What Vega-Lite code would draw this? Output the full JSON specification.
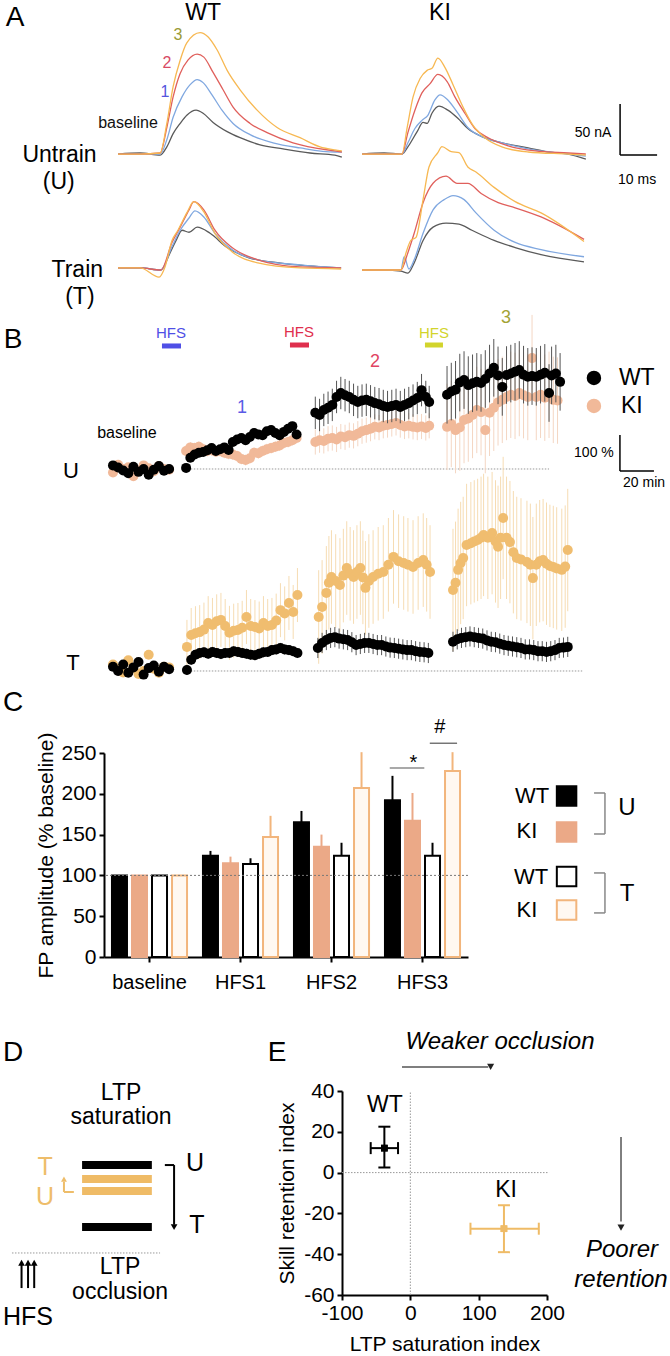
{
"$schema":"https://vega.github.io/schema/vega-lite/v6.json",
"padding":0,"background":"white","spacing":0,"bounds":"flush",
"config":{"view":{"stroke":null},"font":"Liberation Sans","text":{"font":"Liberation Sans","color":"black"},
"axis":{"grid":false,"domainColor":"black","domainWidth":2,"tickColor":"black","tickWidth":2,"tickSize":5,"labelFont":"Liberation Sans","labelFontSize":21,"labelColor":"black","titleFont":"Liberation Sans","titleFontSize":21,"titleFontWeight":"normal","titleColor":"black","labelFlush":false,"labelOverlap":false}},
"datasets":{
"traces":[
{"p":"wu","tr":"b","t":0,"v":0},{"p":"wu","tr":"b","t":6,"v":1},{"p":"wu","tr":"b","t":11.4,"v":-1},{"p":"wu","tr":"b","t":13.2,"v":7},{"p":"wu","tr":"b","t":14.9,"v":20},{"p":"wu","tr":"b","t":16.8,"v":30},{"p":"wu","tr":"b","t":18.6,"v":38},{"p":"wu","tr":"b","t":21.1,"v":43},{"p":"wu","tr":"b","t":23,"v":40},{"p":"wu","tr":"b","t":25.7,"v":31},{"p":"wu","tr":"b","t":29.5,"v":22},{"p":"wu","tr":"b","t":33,"v":16},{"p":"wu","tr":"b","t":38.4,"v":9},{"p":"wu","tr":"b","t":44.6,"v":5},{"p":"wu","tr":"b","t":51.9,"v":1},{"p":"wu","tr":"b","t":58.6,"v":-1},{"p":"wu","tr":"b","t":60.5,"v":-3},
{"p":"wu","tr":"1","t":0,"v":0},{"p":"wu","tr":"1","t":6,"v":0},{"p":"wu","tr":"1","t":11.4,"v":0},{"p":"wu","tr":"1","t":13.2,"v":14},{"p":"wu","tr":"1","t":14.9,"v":36},{"p":"wu","tr":"1","t":17.3,"v":56},{"p":"wu","tr":"1","t":19.5,"v":68},{"p":"wu","tr":"1","t":21.4,"v":73},{"p":"wu","tr":"1","t":23,"v":70},{"p":"wu","tr":"1","t":25.4,"v":58},{"p":"wu","tr":"1","t":28.1,"v":43},{"p":"wu","tr":"1","t":31.1,"v":30},{"p":"wu","tr":"1","t":35.7,"v":19},{"p":"wu","tr":"1","t":41.9,"v":11},{"p":"wu","tr":"1","t":49.2,"v":6},{"p":"wu","tr":"1","t":58.6,"v":2},{"p":"wu","tr":"1","t":60.5,"v":2},
{"p":"wu","tr":"2","t":0,"v":0},{"p":"wu","tr":"2","t":6,"v":0},{"p":"wu","tr":"2","t":11.4,"v":1},{"p":"wu","tr":"2","t":13.2,"v":26},{"p":"wu","tr":"2","t":14.9,"v":56},{"p":"wu","tr":"2","t":16.8,"v":79},{"p":"wu","tr":"2","t":18.9,"v":92},{"p":"wu","tr":"2","t":21.4,"v":98},{"p":"wu","tr":"2","t":23.2,"v":95},{"p":"wu","tr":"2","t":25.7,"v":80},{"p":"wu","tr":"2","t":28.4,"v":63},{"p":"wu","tr":"2","t":31.1,"v":46},{"p":"wu","tr":"2","t":35.7,"v":30},{"p":"wu","tr":"2","t":40.3,"v":21},{"p":"wu","tr":"2","t":47.3,"v":11},{"p":"wu","tr":"2","t":58.6,"v":3},{"p":"wu","tr":"2","t":60.5,"v":2},
{"p":"wu","tr":"3","t":0,"v":0},{"p":"wu","tr":"3","t":6,"v":0},{"p":"wu","tr":"3","t":11.4,"v":1},{"p":"wu","tr":"3","t":13.2,"v":30},{"p":"wu","tr":"3","t":14.9,"v":66},{"p":"wu","tr":"3","t":16.8,"v":92},{"p":"wu","tr":"3","t":18.6,"v":109},{"p":"wu","tr":"3","t":22.2,"v":119},{"p":"wu","tr":"3","t":24.3,"v":115},{"p":"wu","tr":"3","t":26.8,"v":102},{"p":"wu","tr":"3","t":29.5,"v":82},{"p":"wu","tr":"3","t":33,"v":63},{"p":"wu","tr":"3","t":37.6,"v":43},{"p":"wu","tr":"3","t":43,"v":26},{"p":"wu","tr":"3","t":49.2,"v":16},{"p":"wu","tr":"3","t":54.6,"v":7},{"p":"wu","tr":"3","t":58.6,"v":4},{"p":"wu","tr":"3","t":60.5,"v":3},
{"p":"ku","tr":"b","t":0,"v":0},{"p":"ku","tr":"b","t":6,"v":1},{"p":"ku","tr":"b","t":10.8,"v":0},{"p":"ku","tr":"b","t":12.4,"v":7},{"p":"ku","tr":"b","t":14.9,"v":22},{"p":"ku","tr":"b","t":16.5,"v":31},{"p":"ku","tr":"b","t":17.6,"v":30},{"p":"ku","tr":"b","t":18.9,"v":40},{"p":"ku","tr":"b","t":20.8,"v":47},{"p":"ku","tr":"b","t":23.2,"v":43},{"p":"ku","tr":"b","t":25.9,"v":35},{"p":"ku","tr":"b","t":28.6,"v":25},{"p":"ku","tr":"b","t":32.4,"v":17},{"p":"ku","tr":"b","t":37.8,"v":11},{"p":"ku","tr":"b","t":44.9,"v":6},{"p":"ku","tr":"b","t":50.3,"v":2},{"p":"ku","tr":"b","t":55.7,"v":0},{"p":"ku","tr":"b","t":60.5,"v":-5},
{"p":"ku","tr":"1","t":0,"v":0},{"p":"ku","tr":"1","t":6,"v":0},{"p":"ku","tr":"1","t":10.8,"v":0},{"p":"ku","tr":"1","t":12.4,"v":11},{"p":"ku","tr":"1","t":14.3,"v":25},{"p":"ku","tr":"1","t":16.2,"v":33},{"p":"ku","tr":"1","t":17.8,"v":38},{"p":"ku","tr":"1","t":19.7,"v":53},{"p":"ku","tr":"1","t":21.1,"v":58},{"p":"ku","tr":"1","t":23.2,"v":53},{"p":"ku","tr":"1","t":25.9,"v":40},{"p":"ku","tr":"1","t":28.6,"v":26},{"p":"ku","tr":"1","t":32.4,"v":17},{"p":"ku","tr":"1","t":37.8,"v":11},{"p":"ku","tr":"1","t":44.9,"v":5},{"p":"ku","tr":"1","t":55.7,"v":0},{"p":"ku","tr":"1","t":60.5,"v":-2},
{"p":"ku","tr":"2","t":0,"v":0},{"p":"ku","tr":"2","t":6,"v":0},{"p":"ku","tr":"2","t":10.8,"v":0},{"p":"ku","tr":"2","t":12.4,"v":21},{"p":"ku","tr":"2","t":14.3,"v":43},{"p":"ku","tr":"2","t":16.2,"v":60},{"p":"ku","tr":"2","t":18.4,"v":69},{"p":"ku","tr":"2","t":20.5,"v":78},{"p":"ku","tr":"2","t":23,"v":71},{"p":"ku","tr":"2","t":25.1,"v":56},{"p":"ku","tr":"2","t":27.8,"v":40},{"p":"ku","tr":"2","t":30.5,"v":25},{"p":"ku","tr":"2","t":34.1,"v":16},{"p":"ku","tr":"2","t":39.5,"v":8},{"p":"ku","tr":"2","t":46.8,"v":3},{"p":"ku","tr":"2","t":55.7,"v":1},{"p":"ku","tr":"2","t":60.5,"v":0},
{"p":"ku","tr":"3","t":0,"v":0},{"p":"ku","tr":"3","t":6,"v":0},{"p":"ku","tr":"3","t":10.8,"v":0},{"p":"ku","tr":"3","t":12.2,"v":26},{"p":"ku","tr":"3","t":13.8,"v":56},{"p":"ku","tr":"3","t":15.7,"v":74},{"p":"ku","tr":"3","t":17.6,"v":82},{"p":"ku","tr":"3","t":18.9,"v":84},{"p":"ku","tr":"3","t":20.5,"v":94},{"p":"ku","tr":"3","t":22.4,"v":85},{"p":"ku","tr":"3","t":24.6,"v":68},{"p":"ku","tr":"3","t":27.3,"v":46},{"p":"ku","tr":"3","t":30,"v":28},{"p":"ku","tr":"3","t":33.2,"v":16},{"p":"ku","tr":"3","t":37.8,"v":7},{"p":"ku","tr":"3","t":44.9,"v":2},{"p":"ku","tr":"3","t":55.7,"v":0},{"p":"ku","tr":"3","t":60.5,"v":-1},
{"p":"wt","tr":"b","t":0,"v":0},{"p":"wt","tr":"b","t":6,"v":0},{"p":"wt","tr":"b","t":11.6,"v":-2},{"p":"wt","tr":"b","t":14.1,"v":15},{"p":"wt","tr":"b","t":15.7,"v":27},{"p":"wt","tr":"b","t":17.3,"v":37},{"p":"wt","tr":"b","t":19.2,"v":35},{"p":"wt","tr":"b","t":21.4,"v":40},{"p":"wt","tr":"b","t":24.9,"v":34},{"p":"wt","tr":"b","t":29.5,"v":20},{"p":"wt","tr":"b","t":35.4,"v":10},{"p":"wt","tr":"b","t":43.5,"v":5},{"p":"wt","tr":"b","t":60.3,"v":0},
{"p":"wt","tr":"1","t":0,"v":0},{"p":"wt","tr":"1","t":6,"v":0},{"p":"wt","tr":"1","t":11.6,"v":-2},{"p":"wt","tr":"1","t":14.6,"v":21},{"p":"wt","tr":"1","t":16.8,"v":37},{"p":"wt","tr":"1","t":19.2,"v":49},{"p":"wt","tr":"1","t":20.8,"v":56},{"p":"wt","tr":"1","t":23.2,"v":50},{"p":"wt","tr":"1","t":26.2,"v":34},{"p":"wt","tr":"1","t":30.8,"v":18},{"p":"wt","tr":"1","t":37.8,"v":8},{"p":"wt","tr":"1","t":49.2,"v":3},{"p":"wt","tr":"1","t":60.3,"v":0},
{"p":"wt","tr":"2","t":0,"v":0},{"p":"wt","tr":"2","t":6,"v":0},{"p":"wt","tr":"2","t":11.6,"v":-2},{"p":"wt","tr":"2","t":14.6,"v":25},{"p":"wt","tr":"2","t":16.8,"v":40},{"p":"wt","tr":"2","t":19.2,"v":57},{"p":"wt","tr":"2","t":20.5,"v":65},{"p":"wt","tr":"2","t":23.2,"v":57},{"p":"wt","tr":"2","t":26.2,"v":37},{"p":"wt","tr":"2","t":30.8,"v":20},{"p":"wt","tr":"2","t":37.8,"v":8},{"p":"wt","tr":"2","t":49.2,"v":1},{"p":"wt","tr":"2","t":60.3,"v":0},
{"p":"wt","tr":"3","t":0,"v":0},{"p":"wt","tr":"3","t":6,"v":0},{"p":"wt","tr":"3","t":11.1,"v":-9},{"p":"wt","tr":"3","t":12.7,"v":1},{"p":"wt","tr":"3","t":14.6,"v":27},{"p":"wt","tr":"3","t":16.2,"v":37},{"p":"wt","tr":"3","t":18.6,"v":54},{"p":"wt","tr":"3","t":20.5,"v":65},{"p":"wt","tr":"3","t":23.2,"v":55},{"p":"wt","tr":"3","t":26.2,"v":34},{"p":"wt","tr":"3","t":30.8,"v":16},{"p":"wt","tr":"3","t":37.8,"v":5},{"p":"wt","tr":"3","t":49.2,"v":0},{"p":"wt","tr":"3","t":60.3,"v":-1},
{"p":"kt","tr":"b","t":0,"v":0},{"p":"kt","tr":"b","t":6,"v":0},{"p":"kt","tr":"b","t":10.5,"v":-1},{"p":"kt","tr":"b","t":12.4,"v":-3},{"p":"kt","tr":"b","t":14.1,"v":7},{"p":"kt","tr":"b","t":16.5,"v":29},{"p":"kt","tr":"b","t":19.2,"v":42},{"p":"kt","tr":"b","t":22.7,"v":46},{"p":"kt","tr":"b","t":26.2,"v":45},{"p":"kt","tr":"b","t":29.7,"v":39},{"p":"kt","tr":"b","t":35.7,"v":29},{"p":"kt","tr":"b","t":41.4,"v":22},{"p":"kt","tr":"b","t":48.4,"v":15},{"p":"kt","tr":"b","t":60,"v":8},
{"p":"kt","tr":"1","t":0,"v":0},{"p":"kt","tr":"1","t":6,"v":0},{"p":"kt","tr":"1","t":10.5,"v":0},{"p":"kt","tr":"1","t":11.4,"v":13},{"p":"kt","tr":"1","t":12.7,"v":1},{"p":"kt","tr":"1","t":14.1,"v":10},{"p":"kt","tr":"1","t":16.5,"v":36},{"p":"kt","tr":"1","t":19.2,"v":59},{"p":"kt","tr":"1","t":22.2,"v":69},{"p":"kt","tr":"1","t":24.6,"v":73},{"p":"kt","tr":"1","t":27.6,"v":69},{"p":"kt","tr":"1","t":30.8,"v":56},{"p":"kt","tr":"1","t":35.7,"v":39},{"p":"kt","tr":"1","t":41.4,"v":27},{"p":"kt","tr":"1","t":48.4,"v":20},{"p":"kt","tr":"1","t":60,"v":13},
{"p":"kt","tr":"2","t":0,"v":0},{"p":"kt","tr":"2","t":6,"v":0},{"p":"kt","tr":"2","t":10.5,"v":0},{"p":"kt","tr":"2","t":12.4,"v":17},{"p":"kt","tr":"2","t":14.1,"v":36},{"p":"kt","tr":"2","t":16.5,"v":66},{"p":"kt","tr":"2","t":19.2,"v":85},{"p":"kt","tr":"2","t":22.7,"v":92},{"p":"kt","tr":"2","t":25.7,"v":85},{"p":"kt","tr":"2","t":28.6,"v":85},{"p":"kt","tr":"2","t":32.2,"v":75},{"p":"kt","tr":"2","t":36.8,"v":66},{"p":"kt","tr":"2","t":41.4,"v":61},{"p":"kt","tr":"2","t":48.4,"v":52},{"p":"kt","tr":"2","t":60,"v":30},
{"p":"kt","tr":"3","t":0,"v":0},{"p":"kt","tr":"3","t":6,"v":0},{"p":"kt","tr":"3","t":10.5,"v":0},{"p":"kt","tr":"3","t":11.9,"v":17},{"p":"kt","tr":"3","t":13.2,"v":29},{"p":"kt","tr":"3","t":14.6,"v":32},{"p":"kt","tr":"3","t":16.5,"v":69},{"p":"kt","tr":"3","t":18.1,"v":101},{"p":"kt","tr":"3","t":20.5,"v":115},{"p":"kt","tr":"3","t":21.6,"v":121},{"p":"kt","tr":"3","t":24.1,"v":116},{"p":"kt","tr":"3","t":26.2,"v":115},{"p":"kt","tr":"3","t":28.6,"v":101},{"p":"kt","tr":"3","t":30.8,"v":96},{"p":"kt","tr":"3","t":35.7,"v":81},{"p":"kt","tr":"3","t":41.4,"v":67},{"p":"kt","tr":"3","t":48.4,"v":56},{"p":"kt","tr":"3","t":60,"v":28}
],
"tc":[
{"r":"U","g":"WT","t":0,"v":110,"e":6},{"r":"U","g":"WT","t":3,"v":104,"e":6},{"r":"U","g":"WT","t":6,"v":96,"e":6},{"r":"U","g":"WT","t":9,"v":88,"e":6},{"r":"U","g":"WT","t":12,"v":106,"e":6},{"r":"U","g":"WT","t":15,"v":92,"e":6},{"r":"U","g":"WT","t":18,"v":100,"e":6},{"r":"U","g":"WT","t":21,"v":84,"e":6},{"r":"U","g":"WT","t":24,"v":98,"e":6},{"r":"U","g":"WT","t":27,"v":108,"e":6},{"r":"U","g":"WT","t":30,"v":95,"e":6},{"r":"U","g":"WT","t":33,"v":100,"e":6},
{"r":"U","g":"KI","t":0,"v":90,"e":6},{"r":"U","g":"KI","t":3,"v":112,"e":6},{"r":"U","g":"KI","t":6,"v":100,"e":6},{"r":"U","g":"KI","t":9,"v":105,"e":6},{"r":"U","g":"KI","t":12,"v":80,"e":6},{"r":"U","g":"KI","t":15,"v":96,"e":6},{"r":"U","g":"KI","t":18,"v":110,"e":6},{"r":"U","g":"KI","t":21,"v":102,"e":6},{"r":"U","g":"KI","t":24,"v":94,"e":6},{"r":"U","g":"KI","t":27,"v":108,"e":6},{"r":"U","g":"KI","t":30,"v":100,"e":6},{"r":"U","g":"KI","t":33,"v":98,"e":6},
{"r":"U","g":"WT","t":43,"v":103,"e":12},{"r":"U","g":"WT","t":45.5,"v":131,"e":12},{"r":"U","g":"WT","t":48,"v":140,"e":12},{"r":"U","g":"WT","t":50.5,"v":145,"e":12},{"r":"U","g":"WT","t":53,"v":147,"e":12},{"r":"U","g":"WT","t":55.5,"v":152,"e":12},{"r":"U","g":"WT","t":58,"v":158,"e":12},{"r":"U","g":"WT","t":60.5,"v":150,"e":12},{"r":"U","g":"WT","t":63,"v":155,"e":12},{"r":"U","g":"WT","t":65.5,"v":160,"e":12},{"r":"U","g":"WT","t":68,"v":153,"e":12},{"r":"U","g":"WT","t":70.5,"v":175,"e":12},{"r":"U","g":"WT","t":73,"v":182,"e":12},{"r":"U","g":"WT","t":75.5,"v":186,"e":12},{"r":"U","g":"WT","t":78,"v":180,"e":12},{"r":"U","g":"WT","t":80.5,"v":189,"e":12},{"r":"U","g":"WT","t":83,"v":200,"e":12},{"r":"U","g":"WT","t":85.5,"v":196,"e":12},{"r":"U","g":"WT","t":88,"v":194,"e":12},{"r":"U","g":"WT","t":90.5,"v":205,"e":12},{"r":"U","g":"WT","t":93,"v":208,"e":12},{"r":"U","g":"WT","t":95.5,"v":200,"e":12},{"r":"U","g":"WT","t":98,"v":194,"e":12},{"r":"U","g":"WT","t":100.5,"v":203,"e":12},{"r":"U","g":"WT","t":103,"v":212,"e":12},{"r":"U","g":"WT","t":105.5,"v":219,"e":12},{"r":"U","g":"WT","t":108,"v":196,"e":12},
{"r":"U","g":"KI","t":43,"v":150,"e":15},{"r":"U","g":"KI","t":45.5,"v":160,"e":15},{"r":"U","g":"KI","t":48,"v":158,"e":15},{"r":"U","g":"KI","t":50.5,"v":162,"e":15},{"r":"U","g":"KI","t":53,"v":155,"e":15},{"r":"U","g":"KI","t":55.5,"v":150,"e":15},{"r":"U","g":"KI","t":58,"v":152,"e":15},{"r":"U","g":"KI","t":60.5,"v":148,"e":15},{"r":"U","g":"KI","t":63,"v":150,"e":15},{"r":"U","g":"KI","t":65.5,"v":145,"e":15},{"r":"U","g":"KI","t":68,"v":142,"e":15},{"r":"U","g":"KI","t":70.5,"v":140,"e":15},{"r":"U","g":"KI","t":73,"v":136,"e":15},{"r":"U","g":"KI","t":75.5,"v":128,"e":15},{"r":"U","g":"KI","t":78,"v":125,"e":15},{"r":"U","g":"KI","t":80.5,"v":130,"e":15},{"r":"U","g":"KI","t":83,"v":145,"e":15},{"r":"U","g":"KI","t":85.5,"v":144,"e":15},{"r":"U","g":"KI","t":88,"v":150,"e":15},{"r":"U","g":"KI","t":90.5,"v":155,"e":15},{"r":"U","g":"KI","t":93,"v":158,"e":15},{"r":"U","g":"KI","t":95.5,"v":162,"e":15},{"r":"U","g":"KI","t":98,"v":165,"e":15},{"r":"U","g":"KI","t":100.5,"v":172,"e":15},{"r":"U","g":"KI","t":103,"v":175,"e":15},{"r":"U","g":"KI","t":105.5,"v":180,"e":15},{"r":"U","g":"KI","t":108,"v":186,"e":15},
{"r":"U","g":"WT","t":119,"v":256,"e":45},{"r":"U","g":"WT","t":121.5,"v":250,"e":45},{"r":"U","g":"WT","t":124,"v":264,"e":45},{"r":"U","g":"WT","t":126.5,"v":270,"e":45},{"r":"U","g":"WT","t":129,"v":278,"e":45},{"r":"U","g":"WT","t":131.5,"v":300,"e":45},{"r":"U","g":"WT","t":134,"v":311,"e":45},{"r":"U","g":"WT","t":136.5,"v":305,"e":45},{"r":"U","g":"WT","t":139,"v":300,"e":45},{"r":"U","g":"WT","t":141.5,"v":292,"e":45},{"r":"U","g":"WT","t":144,"v":286,"e":45},{"r":"U","g":"WT","t":146.5,"v":290,"e":45},{"r":"U","g":"WT","t":149,"v":292,"e":45},{"r":"U","g":"WT","t":151.5,"v":288,"e":45},{"r":"U","g":"WT","t":154,"v":283,"e":45},{"r":"U","g":"WT","t":156.5,"v":280,"e":45},{"r":"U","g":"WT","t":159,"v":275,"e":45},{"r":"U","g":"WT","t":161.5,"v":272,"e":45},{"r":"U","g":"WT","t":164,"v":275,"e":45},{"r":"U","g":"WT","t":166.5,"v":278,"e":45},{"r":"U","g":"WT","t":169,"v":272,"e":45},{"r":"U","g":"WT","t":171.5,"v":278,"e":45},{"r":"U","g":"WT","t":174,"v":283,"e":45},{"r":"U","g":"WT","t":176.5,"v":290,"e":45},{"r":"U","g":"WT","t":179,"v":297,"e":45},{"r":"U","g":"WT","t":181.5,"v":319,"e":45},{"r":"U","g":"WT","t":184,"v":300,"e":45},{"r":"U","g":"WT","t":186,"v":286,"e":45},
{"r":"U","g":"KI","t":119,"v":175,"e":35},{"r":"U","g":"KI","t":121.5,"v":180,"e":35},{"r":"U","g":"KI","t":124,"v":178,"e":35},{"r":"U","g":"KI","t":126.5,"v":184,"e":35},{"r":"U","g":"KI","t":129,"v":186,"e":35},{"r":"U","g":"KI","t":131.5,"v":182,"e":35},{"r":"U","g":"KI","t":134,"v":190,"e":35},{"r":"U","g":"KI","t":136.5,"v":188,"e":35},{"r":"U","g":"KI","t":139,"v":194,"e":35},{"r":"U","g":"KI","t":141.5,"v":192,"e":35},{"r":"U","g":"KI","t":144,"v":198,"e":35},{"r":"U","g":"KI","t":146.5,"v":205,"e":35},{"r":"U","g":"KI","t":149,"v":208,"e":35},{"r":"U","g":"KI","t":151.5,"v":212,"e":35},{"r":"U","g":"KI","t":154,"v":217,"e":35},{"r":"U","g":"KI","t":156.5,"v":215,"e":35},{"r":"U","g":"KI","t":159,"v":220,"e":35},{"r":"U","g":"KI","t":161.5,"v":222,"e":35},{"r":"U","g":"KI","t":164,"v":225,"e":35},{"r":"U","g":"KI","t":166.5,"v":228,"e":35},{"r":"U","g":"KI","t":169,"v":222,"e":35},{"r":"U","g":"KI","t":171.5,"v":218,"e":35},{"r":"U","g":"KI","t":174,"v":220,"e":35},{"r":"U","g":"KI","t":176.5,"v":217,"e":35},{"r":"U","g":"KI","t":179,"v":215,"e":35},{"r":"U","g":"KI","t":181.5,"v":218,"e":35},{"r":"U","g":"KI","t":184,"v":214,"e":35},{"r":"U","g":"KI","t":186,"v":220,"e":35},
{"r":"U","g":"WT","t":196.5,"v":306,"e":80},{"r":"U","g":"WT","t":199,"v":315,"e":80},{"r":"U","g":"WT","t":201.5,"v":320,"e":80},{"r":"U","g":"WT","t":204,"v":340,"e":80},{"r":"U","g":"WT","t":206.5,"v":347,"e":80},{"r":"U","g":"WT","t":209,"v":333,"e":80},{"r":"U","g":"WT","t":211.5,"v":338,"e":80},{"r":"U","g":"WT","t":214,"v":342,"e":80},{"r":"U","g":"WT","t":216.5,"v":339,"e":80},{"r":"U","g":"WT","t":219,"v":350,"e":80},{"r":"U","g":"WT","t":221.5,"v":365,"e":80},{"r":"U","g":"WT","t":224,"v":381,"e":80},{"r":"U","g":"WT","t":226.5,"v":360,"e":80},{"r":"U","g":"WT","t":229,"v":328,"e":80},{"r":"U","g":"WT","t":231.5,"v":361,"e":80},{"r":"U","g":"WT","t":234,"v":365,"e":80},{"r":"U","g":"WT","t":236.5,"v":370,"e":80},{"r":"U","g":"WT","t":239,"v":375,"e":80},{"r":"U","g":"WT","t":241.5,"v":362,"e":80},{"r":"U","g":"WT","t":244,"v":356,"e":80},{"r":"U","g":"WT","t":246.5,"v":358,"e":80},{"r":"U","g":"WT","t":249,"v":356,"e":80},{"r":"U","g":"WT","t":251.5,"v":362,"e":80},{"r":"U","g":"WT","t":254,"v":367,"e":80},{"r":"U","g":"WT","t":256.5,"v":311,"e":80},{"r":"U","g":"WT","t":258,"v":360,"e":80},{"r":"U","g":"WT","t":260.5,"v":365,"e":80},{"r":"U","g":"WT","t":263,"v":342,"e":80},
{"r":"U","g":"KI","t":196.5,"v":217,"e":120},{"r":"U","g":"KI","t":199,"v":225,"e":120},{"r":"U","g":"KI","t":201.5,"v":208,"e":120},{"r":"U","g":"KI","t":204,"v":215,"e":120},{"r":"U","g":"KI","t":206.5,"v":236,"e":120},{"r":"U","g":"KI","t":209,"v":240,"e":120},{"r":"U","g":"KI","t":211.5,"v":250,"e":120},{"r":"U","g":"KI","t":214,"v":264,"e":120},{"r":"U","g":"KI","t":216.5,"v":258,"e":120},{"r":"U","g":"KI","t":219,"v":208,"e":120},{"r":"U","g":"KI","t":221.5,"v":256,"e":120},{"r":"U","g":"KI","t":224,"v":270,"e":120},{"r":"U","g":"KI","t":226.5,"v":285,"e":120},{"r":"U","g":"KI","t":229,"v":292,"e":120},{"r":"U","g":"KI","t":231.5,"v":300,"e":120},{"r":"U","g":"KI","t":234,"v":306,"e":120},{"r":"U","g":"KI","t":236.5,"v":303,"e":120},{"r":"U","g":"KI","t":239,"v":311,"e":120},{"r":"U","g":"KI","t":241.5,"v":305,"e":120},{"r":"U","g":"KI","t":244,"v":300,"e":120},{"r":"U","g":"KI","t":246.5,"v":408,"e":120},{"r":"U","g":"KI","t":249,"v":300,"e":120},{"r":"U","g":"KI","t":251.5,"v":306,"e":120},{"r":"U","g":"KI","t":254,"v":298,"e":120},{"r":"U","g":"KI","t":256.5,"v":306,"e":120},{"r":"U","g":"KI","t":259,"v":292,"e":120},{"r":"U","g":"KI","t":261.5,"v":290,"e":120},
{"r":"T","g":"WT","t":0,"v":112,"e":8},{"r":"T","g":"WT","t":3,"v":100,"e":8},{"r":"T","g":"WT","t":6,"v":118,"e":8},{"r":"T","g":"WT","t":9,"v":95,"e":8},{"r":"T","g":"WT","t":12,"v":110,"e":8},{"r":"T","g":"WT","t":15,"v":125,"e":8},{"r":"T","g":"WT","t":18,"v":90,"e":8},{"r":"T","g":"WT","t":21,"v":108,"e":8},{"r":"T","g":"WT","t":24,"v":115,"e":8},{"r":"T","g":"WT","t":27,"v":98,"e":8},{"r":"T","g":"WT","t":30,"v":112,"e":8},{"r":"T","g":"WT","t":33,"v":105,"e":8},
{"r":"T","g":"KI","t":0,"v":118,"e":10},{"r":"T","g":"KI","t":3,"v":105,"e":10},{"r":"T","g":"KI","t":6,"v":96,"e":10},{"r":"T","g":"KI","t":9,"v":130,"e":10},{"r":"T","g":"KI","t":12,"v":108,"e":10},{"r":"T","g":"KI","t":15,"v":92,"e":10},{"r":"T","g":"KI","t":18,"v":100,"e":10},{"r":"T","g":"KI","t":21,"v":145,"e":10},{"r":"T","g":"KI","t":24,"v":106,"e":10},{"r":"T","g":"KI","t":27,"v":95,"e":10},{"r":"T","g":"KI","t":30,"v":112,"e":10},{"r":"T","g":"KI","t":33,"v":110,"e":10},
{"r":"T","g":"WT","t":43.5,"v":103,"e":14},{"r":"T","g":"WT","t":46,"v":131,"e":14},{"r":"T","g":"WT","t":48.5,"v":145,"e":14},{"r":"T","g":"WT","t":51,"v":150,"e":14},{"r":"T","g":"WT","t":53.5,"v":152,"e":14},{"r":"T","g":"WT","t":56,"v":148,"e":14},{"r":"T","g":"WT","t":58.5,"v":153,"e":14},{"r":"T","g":"WT","t":61,"v":150,"e":14},{"r":"T","g":"WT","t":63.5,"v":147,"e":14},{"r":"T","g":"WT","t":66,"v":150,"e":14},{"r":"T","g":"WT","t":68.5,"v":150,"e":14},{"r":"T","g":"WT","t":71,"v":155,"e":14},{"r":"T","g":"WT","t":73.5,"v":153,"e":14},{"r":"T","g":"WT","t":76,"v":150,"e":14},{"r":"T","g":"WT","t":78.5,"v":148,"e":14},{"r":"T","g":"WT","t":81,"v":145,"e":14},{"r":"T","g":"WT","t":83.5,"v":144,"e":14},{"r":"T","g":"WT","t":86,"v":148,"e":14},{"r":"T","g":"WT","t":88.5,"v":152,"e":14},{"r":"T","g":"WT","t":91,"v":153,"e":14},{"r":"T","g":"WT","t":93.5,"v":158,"e":14},{"r":"T","g":"WT","t":96,"v":160,"e":14},{"r":"T","g":"WT","t":98.5,"v":164,"e":14},{"r":"T","g":"WT","t":101,"v":160,"e":14},{"r":"T","g":"WT","t":103.5,"v":158,"e":14},{"r":"T","g":"WT","t":106,"v":155,"e":14},{"r":"T","g":"WT","t":108.5,"v":150,"e":14},
{"r":"T","g":"KI","t":43.5,"v":167,"e":75},{"r":"T","g":"KI","t":46,"v":200,"e":75},{"r":"T","g":"KI","t":48.5,"v":205,"e":75},{"r":"T","g":"KI","t":51,"v":208,"e":75},{"r":"T","g":"KI","t":53.5,"v":215,"e":75},{"r":"T","g":"KI","t":56,"v":233,"e":75},{"r":"T","g":"KI","t":58.5,"v":228,"e":75},{"r":"T","g":"KI","t":61,"v":238,"e":75},{"r":"T","g":"KI","t":63.5,"v":242,"e":75},{"r":"T","g":"KI","t":66,"v":225,"e":75},{"r":"T","g":"KI","t":68.5,"v":206,"e":75},{"r":"T","g":"KI","t":71,"v":212,"e":75},{"r":"T","g":"KI","t":73.5,"v":214,"e":75},{"r":"T","g":"KI","t":76,"v":220,"e":75},{"r":"T","g":"KI","t":78.5,"v":250,"e":75},{"r":"T","g":"KI","t":81,"v":225,"e":75},{"r":"T","g":"KI","t":83.5,"v":222,"e":75},{"r":"T","g":"KI","t":86,"v":218,"e":75},{"r":"T","g":"KI","t":88.5,"v":233,"e":75},{"r":"T","g":"KI","t":91,"v":225,"e":75},{"r":"T","g":"KI","t":93.5,"v":228,"e":75},{"r":"T","g":"KI","t":96,"v":240,"e":75},{"r":"T","g":"KI","t":98.5,"v":269,"e":75},{"r":"T","g":"KI","t":101,"v":260,"e":75},{"r":"T","g":"KI","t":103.5,"v":289,"e":75},{"r":"T","g":"KI","t":106,"v":264,"e":75},{"r":"T","g":"KI","t":108.5,"v":311,"e":75},
{"r":"T","g":"WT","t":120.5,"v":164,"e":28},{"r":"T","g":"WT","t":123,"v":178,"e":28},{"r":"T","g":"WT","t":125.5,"v":186,"e":28},{"r":"T","g":"WT","t":128,"v":192,"e":28},{"r":"T","g":"WT","t":130.5,"v":194,"e":28},{"r":"T","g":"WT","t":133,"v":190,"e":28},{"r":"T","g":"WT","t":135.5,"v":188,"e":28},{"r":"T","g":"WT","t":138,"v":186,"e":28},{"r":"T","g":"WT","t":140.5,"v":180,"e":28},{"r":"T","g":"WT","t":143,"v":172,"e":28},{"r":"T","g":"WT","t":145.5,"v":175,"e":28},{"r":"T","g":"WT","t":148,"v":178,"e":28},{"r":"T","g":"WT","t":150.5,"v":178,"e":28},{"r":"T","g":"WT","t":153,"v":175,"e":28},{"r":"T","g":"WT","t":155.5,"v":172,"e":28},{"r":"T","g":"WT","t":158,"v":172,"e":28},{"r":"T","g":"WT","t":160.5,"v":168,"e":28},{"r":"T","g":"WT","t":163,"v":165,"e":28},{"r":"T","g":"WT","t":165.5,"v":164,"e":28},{"r":"T","g":"WT","t":168,"v":162,"e":28},{"r":"T","g":"WT","t":170.5,"v":160,"e":28},{"r":"T","g":"WT","t":173,"v":158,"e":28},{"r":"T","g":"WT","t":175.5,"v":158,"e":28},{"r":"T","g":"WT","t":178,"v":155,"e":28},{"r":"T","g":"WT","t":180.5,"v":153,"e":28},{"r":"T","g":"WT","t":183,"v":152,"e":28},{"r":"T","g":"WT","t":185.5,"v":150,"e":28},
{"r":"T","g":"KI","t":121,"v":250,"e":130},{"r":"T","g":"KI","t":123,"v":278,"e":130},{"r":"T","g":"KI","t":125.5,"v":317,"e":130},{"r":"T","g":"KI","t":127,"v":345,"e":130},{"r":"T","g":"KI","t":128.5,"v":361,"e":130},{"r":"T","g":"KI","t":131,"v":350,"e":130},{"r":"T","g":"KI","t":133.5,"v":339,"e":130},{"r":"T","g":"KI","t":135.5,"v":365,"e":130},{"r":"T","g":"KI","t":137.5,"v":386,"e":130},{"r":"T","g":"KI","t":139.5,"v":370,"e":130},{"r":"T","g":"KI","t":141.5,"v":361,"e":130},{"r":"T","g":"KI","t":143.5,"v":375,"e":130},{"r":"T","g":"KI","t":145.5,"v":386,"e":130},{"r":"T","g":"KI","t":147,"v":360,"e":130},{"r":"T","g":"KI","t":148.5,"v":331,"e":130},{"r":"T","g":"KI","t":150.5,"v":350,"e":130},{"r":"T","g":"KI","t":153,"v":361,"e":130},{"r":"T","g":"KI","t":156,"v":370,"e":130},{"r":"T","g":"KI","t":159,"v":375,"e":130},{"r":"T","g":"KI","t":162,"v":395,"e":130},{"r":"T","g":"KI","t":165,"v":417,"e":130},{"r":"T","g":"KI","t":168,"v":405,"e":130},{"r":"T","g":"KI","t":171,"v":400,"e":130},{"r":"T","g":"KI","t":173.5,"v":395,"e":130},{"r":"T","g":"KI","t":176.5,"v":389,"e":130},{"r":"T","g":"KI","t":179.5,"v":400,"e":130},{"r":"T","g":"KI","t":182.5,"v":408,"e":130},{"r":"T","g":"KI","t":184.5,"v":395,"e":130},{"r":"T","g":"KI","t":186.5,"v":375,"e":130},
{"r":"T","g":"WT","t":200,"v":181,"e":28},{"r":"T","g":"WT","t":202.5,"v":188,"e":28},{"r":"T","g":"WT","t":205,"v":192,"e":28},{"r":"T","g":"WT","t":207.5,"v":194,"e":28},{"r":"T","g":"WT","t":210,"v":196,"e":28},{"r":"T","g":"WT","t":212.5,"v":194,"e":28},{"r":"T","g":"WT","t":215,"v":192,"e":28},{"r":"T","g":"WT","t":217.5,"v":190,"e":28},{"r":"T","g":"WT","t":220,"v":185,"e":28},{"r":"T","g":"WT","t":222.5,"v":181,"e":28},{"r":"T","g":"WT","t":225,"v":180,"e":28},{"r":"T","g":"WT","t":227.5,"v":176,"e":28},{"r":"T","g":"WT","t":230,"v":172,"e":28},{"r":"T","g":"WT","t":232.5,"v":170,"e":28},{"r":"T","g":"WT","t":235,"v":168,"e":28},{"r":"T","g":"WT","t":237.5,"v":166,"e":28},{"r":"T","g":"WT","t":240,"v":164,"e":28},{"r":"T","g":"WT","t":242.5,"v":160,"e":28},{"r":"T","g":"WT","t":245,"v":160,"e":28},{"r":"T","g":"WT","t":247.5,"v":158,"e":28},{"r":"T","g":"WT","t":250,"v":155,"e":28},{"r":"T","g":"WT","t":252.5,"v":155,"e":28},{"r":"T","g":"WT","t":255,"v":153,"e":28},{"r":"T","g":"WT","t":257.5,"v":155,"e":28},{"r":"T","g":"WT","t":260,"v":158,"e":28},{"r":"T","g":"WT","t":262.5,"v":164,"e":28},{"r":"T","g":"WT","t":265,"v":165,"e":28},{"r":"T","g":"WT","t":267.5,"v":167,"e":28},
{"r":"T","g":"KI","t":200,"v":325,"e":170},{"r":"T","g":"KI","t":201.5,"v":345,"e":170},{"r":"T","g":"KI","t":203,"v":381,"e":170},{"r":"T","g":"KI","t":204.5,"v":400,"e":170},{"r":"T","g":"KI","t":206,"v":414,"e":170},{"r":"T","g":"KI","t":208,"v":450,"e":170},{"r":"T","g":"KI","t":210.5,"v":455,"e":170},{"r":"T","g":"KI","t":212.5,"v":460,"e":170},{"r":"T","g":"KI","t":214.5,"v":464,"e":170},{"r":"T","g":"KI","t":216.5,"v":470,"e":170},{"r":"T","g":"KI","t":218,"v":478,"e":170},{"r":"T","g":"KI","t":220.5,"v":470,"e":170},{"r":"T","g":"KI","t":223,"v":483,"e":170},{"r":"T","g":"KI","t":225,"v":460,"e":170},{"r":"T","g":"KI","t":226.5,"v":445,"e":170},{"r":"T","g":"KI","t":228,"v":470,"e":170},{"r":"T","g":"KI","t":229.5,"v":525,"e":170},{"r":"T","g":"KI","t":231.5,"v":470,"e":170},{"r":"T","g":"KI","t":233.5,"v":458,"e":170},{"r":"T","g":"KI","t":235.5,"v":430,"e":170},{"r":"T","g":"KI","t":237.5,"v":414,"e":170},{"r":"T","g":"KI","t":240,"v":410,"e":170},{"r":"T","g":"KI","t":243.5,"v":403,"e":170},{"r":"T","g":"KI","t":245.5,"v":395,"e":170},{"r":"T","g":"KI","t":247,"v":358,"e":170},{"r":"T","g":"KI","t":249,"v":395,"e":170},{"r":"T","g":"KI","t":251,"v":405,"e":170},{"r":"T","g":"KI","t":253,"v":408,"e":170},{"r":"T","g":"KI","t":255,"v":398,"e":170},{"r":"T","g":"KI","t":257,"v":392,"e":170},{"r":"T","g":"KI","t":259,"v":389,"e":170},{"r":"T","g":"KI","t":261,"v":385,"e":170},{"r":"T","g":"KI","t":264,"v":381,"e":170},{"r":"T","g":"KI","t":266,"v":390,"e":170},{"r":"T","g":"KI","t":267.5,"v":436,"e":170}
],
"bars":[
{"c":"baseline","g":"WT-U","v":100,"top":100},{"c":"baseline","g":"KI-U","v":100,"top":100},{"c":"baseline","g":"WT-T","v":100,"top":100},{"c":"baseline","g":"KI-T","v":100,"top":100},
{"c":"HFS1","g":"WT-U","v":124,"top":130},{"c":"HFS1","g":"KI-U","v":115,"top":123},{"c":"HFS1","g":"WT-T","v":114,"top":121},{"c":"HFS1","g":"KI-T","v":147,"top":173},
{"c":"HFS2","g":"WT-U","v":165,"top":179},{"c":"HFS2","g":"KI-U","v":135,"top":150},{"c":"HFS2","g":"WT-T","v":124,"top":140},{"c":"HFS2","g":"KI-T","v":207,"top":251},
{"c":"HFS3","g":"WT-U","v":192,"top":222},{"c":"HFS3","g":"KI-U","v":167,"top":201},{"c":"HFS3","g":"WT-T","v":124,"top":140},{"c":"HFS3","g":"KI-T","v":228,"top":251}
],
"E":[{"g":"WT","x":-38,"y":12,"xlo":-58,"xhi":-18,"ylo":2.5,"yhi":22.5},{"g":"KI","x":137,"y":-27.5,"xlo":88,"xhi":188,"ylo":-39,"yhi":-16}]
},
"vconcat":[
{"width":670,"height":300,
"resolve":{"scale":{"x":"independent","y":"independent","color":"independent"}},
"layer":[
{"data":{"name":"traces"},"transform":[{"filter":"datum.p == 'wu'"}],"mark":{"type":"line","strokeWidth":1.3,"interpolate":"monotone"},
"encoding":{"x":{"field":"t","type":"quantitative","scale":{"domain":[-31.89,149.19],"nice":false,"zero":false},"axis":null},"y":{"field":"v","type":"quantitative","scale":{"domain":[-143.1,151],"nice":false,"zero":false},"axis":null},"color":{"field":"tr","type":"nominal","scale":{"domain":["b","1","2","3"],"range":["#5a5a5a","#80a8e0","#e0605c","#f7b852"]},"legend":null}}},
{"data":{"name":"traces"},"transform":[{"filter":"datum.p == 'wt'"}],"mark":{"type":"line","strokeWidth":1.3,"interpolate":"monotone"},
"encoding":{"x":{"field":"t","type":"quantitative","scale":{"domain":[-31.89,149.19],"nice":false,"zero":false},"axis":null},"y":{"field":"v","type":"quantitative","scale":{"domain":[-31.4,262.7],"nice":false,"zero":false},"axis":null},"color":{"field":"tr","type":"nominal","scale":{"domain":["b","1","2","3"],"range":["#5a5a5a","#80a8e0","#e0605c","#f7b852"]},"legend":null}}},
{"data":{"name":"traces"},"transform":[{"filter":"datum.p == 'ku'"}],"mark":{"type":"line","strokeWidth":1.3,"interpolate":"monotone"},
"encoding":{"x":{"field":"t","type":"quantitative","scale":{"domain":[-97.84,83.24],"nice":false,"zero":false},"axis":null},"y":{"field":"v","type":"quantitative","scale":{"domain":[-143.1,151],"nice":false,"zero":false},"axis":null},"color":{"field":"tr","type":"nominal","scale":{"domain":["b","1","2","3"],"range":["#5a5a5a","#80a8e0","#e0605c","#f7b852"]},"legend":null}}},
{"data":{"name":"traces"},"transform":[{"filter":"datum.p == 'kt'"}],"mark":{"type":"line","strokeWidth":1.3,"interpolate":"monotone"},
"encoding":{"x":{"field":"t","type":"quantitative","scale":{"domain":[-97.84,83.24],"nice":false,"zero":false},"axis":null},"y":{"field":"v","type":"quantitative","scale":{"domain":[-29.4,264.7],"nice":false,"zero":false},"axis":null},"color":{"field":"tr","type":"nominal","scale":{"domain":["b","1","2","3"],"range":["#5a5a5a","#80a8e0","#e0605c","#f7b852"]},"legend":null}}},
{"data":{"values":[{"l":"A","t":-27.8,"v":133}]},"mark":{"type":"text","fontSize":28,"align":"center","baseline":"middle"},
"encoding":{"x":{"field":"t","type":"quantitative","scale":{"domain":[-31.89,149.19],"nice":false,"zero":false},"axis":null},"y":{"field":"v","type":"quantitative","scale":{"domain":[-143.1,151],"nice":false,"zero":false},"axis":null},"text":{"field":"l"}}},
{"data":{"values":[{"l":"WT","t":23,"v":138},{"l":"KI","t":87,"v":138},{"l":"Untrain","t":-15.8,"v":-1},{"l":"(U)","t":-16,"v":-27.5},{"l":"Train","t":-11,"v":-113.7},{"l":"(T)","t":-10.3,"v":-140}]},"mark":{"type":"text","fontSize":23,"align":"center","baseline":"middle"},
"encoding":{"x":{"field":"t","type":"quantitative","scale":{"domain":[-31.89,149.19],"nice":false,"zero":false},"axis":null},"y":{"field":"v","type":"quantitative","scale":{"domain":[-143.1,151],"nice":false,"zero":false},"axis":null},"text":{"field":"l"}}},
{"data":{"values":[{"l":"3","k":"3","t":16.2,"v":116.7},{"l":"2","k":"2","t":13.2,"v":89},{"l":"1","k":"1","t":12.7,"v":61},{"l":"baseline","k":"b","t":2.7,"v":30}]},"mark":{"type":"text","fontSize":16,"align":"center","baseline":"middle"},
"encoding":{"x":{"field":"t","type":"quantitative","scale":{"domain":[-31.89,149.19],"nice":false,"zero":false},"axis":null},"y":{"field":"v","type":"quantitative","scale":{"domain":[-143.1,151],"nice":false,"zero":false},"axis":null},"text":{"field":"l"},"color":{"field":"k","type":"nominal","scale":{"domain":["b","1","2","3"],"range":["#111111","#5555dd","#d84a64","#9a9a35"]},"legend":null}}},
{"data":{"values":[{"t":135.7,"t2":135.7,"v":-1,"v2":49},{"t":135.7,"t2":145.7,"v":-1,"v2":-1}]},"mark":{"type":"rule","strokeWidth":1.5,"color":"black"},
"encoding":{"x":{"field":"t","type":"quantitative","scale":{"domain":[-31.89,149.19],"nice":false,"zero":false},"axis":null},"x2":{"field":"t2"},"y":{"field":"v","type":"quantitative","scale":{"domain":[-143.1,151],"nice":false,"zero":false},"axis":null},"y2":{"field":"v2"}}},
{"data":{"values":[{"l":"50 nA","t":128.4,"v":20.6},{"l":"10 ms","t":140.3,"v":-25.5}]},"mark":{"type":"text","fontSize":14,"align":"center","baseline":"middle"},
"encoding":{"x":{"field":"t","type":"quantitative","scale":{"domain":[-31.89,149.19],"nice":false,"zero":false},"axis":null},"y":{"field":"v","type":"quantitative","scale":{"domain":[-143.1,151],"nice":false,"zero":false},"axis":null},"text":{"field":"l"}}}
]},
{"width":670,"height":453,
"resolve":{"scale":{"y":"independent","color":"independent"}},
"layer":[
{"data":{"values":[{"t":44,"t2":256.5,"v":100}]},"mark":{"type":"rule","strokeDash":[1.5,1.5],"color":"#999999","strokeWidth":1},
"encoding":{"x":{"field":"t","type":"quantitative","scale":{"domain":[-66.47,327.65],"nice":false,"zero":false},"axis":null},"x2":{"field":"t2"},"y":{"field":"v","type":"quantitative","scale":{"domain":[-688.9,569.4],"nice":false,"zero":false},"axis":null}}},
{"data":{"values":[{"t":44,"t2":276,"v":100}]},"mark":{"type":"rule","strokeDash":[1.5,1.5],"color":"#999999","strokeWidth":1},
"encoding":{"x":{"field":"t","type":"quantitative","scale":{"domain":[-66.47,327.65],"nice":false,"zero":false},"axis":null},"x2":{"field":"t2"},"y":{"field":"v","type":"quantitative","scale":{"domain":[-127.8,1130.6],"nice":false,"zero":false},"axis":null}}},
{"data":{"name":"tc"},"transform":[{"filter":"datum.r=='U' && datum.g=='KI'"}],"mark":{"type":"errorbar","color":"#f4d6c3"},
"encoding":{"x":{"field":"t","type":"quantitative","scale":{"domain":[-66.47,327.65],"nice":false,"zero":false},"axis":null},"y":{"field":"v","type":"quantitative","scale":{"domain":[-688.9,569.4],"nice":false,"zero":false},"axis":null},"yError":{"field":"e"}}},
{"data":{"name":"tc"},"transform":[{"filter":"datum.r=='U' && datum.g=='KI'"}],"mark":{"type":"circle","size":100,"color":"#f1b999","opacity":1},
"encoding":{"x":{"field":"t","type":"quantitative","scale":{"domain":[-66.47,327.65],"nice":false,"zero":false},"axis":null},"y":{"field":"v","type":"quantitative","scale":{"domain":[-688.9,569.4],"nice":false,"zero":false},"axis":null}}},
{"data":{"name":"tc"},"transform":[{"filter":"datum.r=='U' && datum.g=='WT'"}],"mark":{"type":"errorbar","color":"#555555"},
"encoding":{"x":{"field":"t","type":"quantitative","scale":{"domain":[-66.47,327.65],"nice":false,"zero":false},"axis":null},"y":{"field":"v","type":"quantitative","scale":{"domain":[-688.9,569.4],"nice":false,"zero":false},"axis":null},"yError":{"field":"e"}}},
{"data":{"name":"tc"},"transform":[{"filter":"datum.r=='U' && datum.g=='WT'"}],"mark":{"type":"circle","size":100,"color":"#000000","opacity":1},
"encoding":{"x":{"field":"t","type":"quantitative","scale":{"domain":[-66.47,327.65],"nice":false,"zero":false},"axis":null},"y":{"field":"v","type":"quantitative","scale":{"domain":[-688.9,569.4],"nice":false,"zero":false},"axis":null}}},
{"data":{"name":"tc"},"transform":[{"filter":"datum.r=='T' && datum.g=='KI'"}],"mark":{"type":"errorbar","color":"#f6dcb3"},
"encoding":{"x":{"field":"t","type":"quantitative","scale":{"domain":[-66.47,327.65],"nice":false,"zero":false},"axis":null},"y":{"field":"v","type":"quantitative","scale":{"domain":[-127.8,1130.6],"nice":false,"zero":false},"axis":null},"yError":{"field":"e"}}},
{"data":{"name":"tc"},"transform":[{"filter":"datum.r=='T' && datum.g=='KI'"}],"mark":{"type":"circle","size":100,"color":"#f0bd6f","opacity":1},
"encoding":{"x":{"field":"t","type":"quantitative","scale":{"domain":[-66.47,327.65],"nice":false,"zero":false},"axis":null},"y":{"field":"v","type":"quantitative","scale":{"domain":[-127.8,1130.6],"nice":false,"zero":false},"axis":null}}},
{"data":{"name":"tc"},"transform":[{"filter":"datum.r=='T' && datum.g=='WT'"}],"mark":{"type":"errorbar","color":"#555555"},
"encoding":{"x":{"field":"t","type":"quantitative","scale":{"domain":[-66.47,327.65],"nice":false,"zero":false},"axis":null},"y":{"field":"v","type":"quantitative","scale":{"domain":[-127.8,1130.6],"nice":false,"zero":false},"axis":null},"yError":{"field":"e"}}},
{"data":{"name":"tc"},"transform":[{"filter":"datum.r=='T' && datum.g=='WT'"}],"mark":{"type":"circle","size":100,"color":"#000000","opacity":1},
"encoding":{"x":{"field":"t","type":"quantitative","scale":{"domain":[-66.47,327.65],"nice":false,"zero":false},"axis":null},"y":{"field":"v","type":"quantitative","scale":{"domain":[-127.8,1130.6],"nice":false,"zero":false},"axis":null}}},
{"data":{"values":[{"k":"1","t":28.8,"t2":40,"v":441.7},{"k":"2","t":104.1,"t2":115.3,"v":444.4},{"k":"3","t":183.5,"t2":194.1,"v":444.4}]},"mark":{"type":"rule","strokeWidth":5},
"encoding":{"x":{"field":"t","type":"quantitative","scale":{"domain":[-66.47,327.65],"nice":false,"zero":false},"axis":null},"x2":{"field":"t2"},"y":{"field":"v","type":"quantitative","scale":{"domain":[-688.9,569.4],"nice":false,"zero":false},"axis":null},"color":{"field":"k","type":"nominal","scale":{"domain":["1","2","3"],"range":["#4f4fe6","#df2f4d","#d2d42c"]},"legend":null}}},
{"data":{"values":[{"k":"1","l":"HFS","t":34.1,"v":478},{"k":"2","l":"HFS","t":109.4,"v":480.6},{"k":"3","l":"HFS","t":188.8,"v":477.8}]},"mark":{"type":"text","fontSize":15,"align":"center","baseline":"middle"},
"encoding":{"x":{"field":"t","type":"quantitative","scale":{"domain":[-66.47,327.65],"nice":false,"zero":false},"axis":null},"y":{"field":"v","type":"quantitative","scale":{"domain":[-688.9,569.4],"nice":false,"zero":false},"axis":null},"text":{"field":"l"},"color":{"field":"k","type":"nominal","scale":{"domain":["1","2","3"],"range":["#4f4fe6","#df2f4d","#d2d42c"]},"legend":null}}},
{"data":{"values":[{"k":"1","l":"1","t":75.9,"v":269.4},{"k":"2","l":"2","t":154.1,"v":397.2},{"k":"3","l":"3","t":231.2,"v":519.4}]},"mark":{"type":"text","fontSize":18,"align":"center","baseline":"middle"},
"encoding":{"x":{"field":"t","type":"quantitative","scale":{"domain":[-66.47,327.65],"nice":false,"zero":false},"axis":null},"y":{"field":"v","type":"quantitative","scale":{"domain":[-688.9,569.4],"nice":false,"zero":false},"axis":null},"text":{"field":"l"},"color":{"field":"k","type":"nominal","scale":{"domain":["1","2","3"],"range":["#5a5ae6","#e04462","#a3a335"]},"legend":null}}},
{"data":{"values":[{"l":"baseline","t":8.2,"v":200}]},"mark":{"type":"text","fontSize":16,"align":"center","baseline":"middle"},
"encoding":{"x":{"field":"t","type":"quantitative","scale":{"domain":[-66.47,327.65],"nice":false,"zero":false},"axis":null},"y":{"field":"v","type":"quantitative","scale":{"domain":[-688.9,569.4],"nice":false,"zero":false},"axis":null},"text":{"field":"l"}}},
{"data":{"values":[{"l":"B","t":-58.8,"v":458}]},"mark":{"type":"text","fontSize":28,"align":"center","baseline":"middle"},
"encoding":{"x":{"field":"t","type":"quantitative","scale":{"domain":[-66.47,327.65],"nice":false,"zero":false},"axis":null},"y":{"field":"v","type":"quantitative","scale":{"domain":[-688.9,569.4],"nice":false,"zero":false},"axis":null},"text":{"field":"l"}}},
{"data":{"values":[{"l":"U","t":-24.7,"v":94.4},{"l":"T","t":-23.5,"v":-438.9}]},"mark":{"type":"text","fontSize":22,"align":"center","baseline":"middle"},
"encoding":{"x":{"field":"t","type":"quantitative","scale":{"domain":[-66.47,327.65],"nice":false,"zero":false},"axis":null},"y":{"field":"v","type":"quantitative","scale":{"domain":[-688.9,569.4],"nice":false,"zero":false},"axis":null},"text":{"field":"l"}}},
{"data":{"values":[{"k":"WT","t":282.9,"v":352.8},{"k":"KI","t":282.9,"v":275}]},"mark":{"type":"circle","size":210,"opacity":1},
"encoding":{"x":{"field":"t","type":"quantitative","scale":{"domain":[-66.47,327.65],"nice":false,"zero":false},"axis":null},"y":{"field":"v","type":"quantitative","scale":{"domain":[-688.9,569.4],"nice":false,"zero":false},"axis":null},"color":{"field":"k","type":"nominal","scale":{"domain":["WT","KI"],"range":["#000000","#f1b999"]},"legend":null}}},
{"data":{"values":[{"l":"WT","t":297.6,"v":352.8},{"l":"KI","t":298.8,"v":275}]},"mark":{"type":"text","fontSize":23,"align":"left","baseline":"middle"},
"encoding":{"x":{"field":"t","type":"quantitative","scale":{"domain":[-66.47,327.65],"nice":false,"zero":false},"axis":null},"y":{"field":"v","type":"quantitative","scale":{"domain":[-688.9,569.4],"nice":false,"zero":false},"axis":null},"text":{"field":"l"}}},
{"data":{"values":[{"t":298.2,"t2":298.2,"v":94.4,"v2":194.4},{"t":298.2,"t2":318.2,"v":94.4,"v2":94.4}]},"mark":{"type":"rule","strokeWidth":1.5,"color":"black"},
"encoding":{"x":{"field":"t","type":"quantitative","scale":{"domain":[-66.47,327.65],"nice":false,"zero":false},"axis":null},"x2":{"field":"t2"},"y":{"field":"v","type":"quantitative","scale":{"domain":[-688.9,569.4],"nice":false,"zero":false},"axis":null},"y2":{"field":"v2"}}},
{"data":{"values":[{"l":"100 %","t":282.9,"v":144.4},{"l":"20 min","t":312.4,"v":61}]},"mark":{"type":"text","fontSize":14,"align":"center","baseline":"middle"},
"encoding":{"x":{"field":"t","type":"quantitative","scale":{"domain":[-66.47,327.65],"nice":false,"zero":false},"axis":null},"y":{"field":"v","type":"quantitative","scale":{"domain":[-688.9,569.4],"nice":false,"zero":false},"axis":null},"text":{"field":"l"}}}
]},
{"spacing":0,"bounds":"flush","hconcat":[
{"width":104,"height":204,"data":{"values":[{"l":"C","x":0.125,"y":1.245}]},"mark":{"type":"text","fontSize":28,"align":"center","baseline":"middle"},
"encoding":{"x":{"field":"x","type":"quantitative","scale":{"domain":[0,1],"nice":false,"zero":false},"axis":null},"y":{"field":"y","type":"quantitative","scale":{"domain":[0,1],"nice":false,"zero":false},"axis":null},"text":{"field":"l"}}},
{"width":364,"height":204,
"resolve":{"scale":{"x":"independent"}},
"layer":[
{"data":{"name":"bars"},"mark":{"type":"bar","strokeWidth":2},
"encoding":{"x":{"field":"c","type":"nominal","scale":{"domain":["baseline","HFS1","HFS2","HFS3"],"paddingInner":0.12,"paddingOuter":0.06},"axis":{"title":null,"labelAngle":0,"labelPadding":10,"labelFontSize":20}},
"xOffset":{"field":"g","type":"nominal","scale":{"domain":["WT-U","KI-U","WT-T","KI-T"],"paddingInner":0.25,"paddingOuter":0.125}},
"y":{"field":"v","type":"quantitative","scale":{"domain":[0,250],"nice":false},"axis":{"values":[0,50,100,150,200,250],"title":"FP amplitude (% baseline)","labelPadding":3}},
"fill":{"field":"g","type":"nominal","scale":{"domain":["WT-U","KI-U","WT-T","KI-T"],"range":["#000000","#eba987","#ffffff","#fff8f1"]},"legend":null},
"stroke":{"field":"g","type":"nominal","scale":{"domain":["WT-U","KI-U","WT-T","KI-T"],"range":["#000000","#eba987","#000000","#f2b57c"]},"legend":null}}},
{"data":{"name":"bars"},"transform":[{"filter":"datum.top > datum.v"}],"mark":{"type":"rule","strokeWidth":2},
"encoding":{"x":{"field":"c","type":"nominal","scale":{"domain":["baseline","HFS1","HFS2","HFS3"],"paddingInner":0.12,"paddingOuter":0.06},"axis":null},
"xOffset":{"field":"g","type":"nominal","scale":{"domain":["WT-U","KI-U","WT-T","KI-T"],"paddingInner":0.25,"paddingOuter":0.125}},
"y":{"field":"v","type":"quantitative","scale":{"domain":[0,250],"nice":false}},"y2":{"field":"top"},
"stroke":{"field":"g","type":"nominal","scale":{"domain":["WT-U","KI-U","WT-T","KI-T"],"range":["#000000","#eba987","#000000","#f2b57c"]},"legend":null}}},
{"data":{"values":[{"v":100}]},"mark":{"type":"rule","strokeDash":[2,2],"color":"#777777","strokeWidth":1},
"encoding":{"y":{"field":"v","type":"quantitative","scale":{"domain":[0,250],"nice":false}}}},
{"data":{"values":[{"u":3.14,"u2":3.52,"v":231.6},{"u":3.58,"u2":3.88,"v":262}]},"mark":{"type":"rule","color":"#555555","strokeWidth":1.2},
"encoding":{"x":{"field":"u","type":"quantitative","scale":{"domain":[0,4],"nice":false,"zero":false},"axis":null},"x2":{"field":"u2"},"y":{"field":"v","type":"quantitative","scale":{"domain":[0,250],"nice":false}}}},
{"data":{"values":[{"l":"*","u":3.40,"v":238},{"l":"#","u":3.69,"v":282}]},"mark":{"type":"text","fontSize":20,"align":"center","baseline":"middle"},
"encoding":{"x":{"field":"u","type":"quantitative","scale":{"domain":[0,4],"nice":false,"zero":false},"axis":null},"y":{"field":"v","type":"quantitative","scale":{"domain":[0,250],"nice":false}},"text":{"field":"l"}}}
]},
{"width":202,"height":204,
"layer":[
{"data":{"values":[{"l":"WT","x":3.17,"y":7.89},{"l":"KI","x":2.92,"y":6.2},{"l":"WT","x":3.12,"y":3.92},{"l":"KI","x":2.92,"y":2.3}]},"mark":{"type":"text","fontSize":22,"align":"center","baseline":"middle"},
"encoding":{"x":{"field":"x","type":"quantitative","scale":{"domain":[0,10],"nice":false,"zero":false},"axis":null},"y":{"field":"y","type":"quantitative","scale":{"domain":[0,10],"nice":false,"zero":false},"axis":null},"text":{"field":"l"}}},
{"data":{"values":[{"l":"U","x":7.87,"y":7.3},{"l":"T","x":7.87,"y":3.09}]},"mark":{"type":"text","fontSize":24,"align":"center","baseline":"middle"},
"encoding":{"x":{"field":"x","type":"quantitative","scale":{"domain":[0,10],"nice":false,"zero":false},"axis":null},"y":{"field":"y","type":"quantitative","scale":{"domain":[0,10],"nice":false,"zero":false},"axis":null},"text":{"field":"l"}}},
{"data":{"values":[{"lg":"WT-U","x":4.88,"y":7.89},{"lg":"KI-U","x":4.88,"y":6.13},{"lg":"WT-T","x":4.88,"y":3.95},{"lg":"KI-T","x":4.88,"y":2.3}]},"mark":{"type":"point","shape":"square","filled":true,"size":380,"strokeWidth":2,"opacity":1},
"encoding":{"x":{"field":"x","type":"quantitative","scale":{"domain":[0,10],"nice":false,"zero":false},"axis":null},"y":{"field":"y","type":"quantitative","scale":{"domain":[0,10],"nice":false,"zero":false},"axis":null},
"fill":{"field":"lg","type":"nominal","scale":{"domain":["WT-U","KI-U","WT-T","KI-T"],"range":["#000000","#f4cdac","#ffffff","#fff8f1"]},"legend":null},
"stroke":{"field":"lg","type":"nominal","scale":{"domain":["WT-U","KI-U","WT-T","KI-T"],"range":["#000000","#f4cdac","#000000","#f2b57c"]},"legend":null}}},
{"data":{"values":[{"x":6.78,"x2":6.78,"y":8.04,"y2":6.03},{"x":6.24,"x2":6.78,"y":8.04,"y2":8.04},{"x":6.24,"x2":6.78,"y":6.03,"y2":6.03},{"x":6.78,"x2":6.78,"y":4.12,"y2":2.16},{"x":6.24,"x2":6.78,"y":4.12,"y2":4.12},{"x":6.24,"x2":6.78,"y":2.16,"y2":2.16}]},"mark":{"type":"rule","color":"#888888","strokeWidth":1.5},
"encoding":{"x":{"field":"x","type":"quantitative","scale":{"domain":[0,10],"nice":false,"zero":false},"axis":null},"x2":{"field":"x2"},"y":{"field":"y","type":"quantitative","scale":{"domain":[0,10],"nice":false,"zero":false},"axis":null},"y2":{"field":"y2"}}}
]}
]},
{"width":670,"height":338,"data":{"values":[{"l":"D","x":0.194,"y":1.124},{"l":"E","x":4.134,"y":1.124}]},"mark":{"type":"text","fontSize":28,"align":"center","baseline":"middle"},
"encoding":{"x":{"field":"x","type":"quantitative","scale":{"domain":[0,10],"nice":false,"zero":false},"axis":null},"y":{"field":"y","type":"quantitative","scale":{"domain":[0,10],"nice":false,"zero":false},"axis":null},"text":{"field":"l"}}},
{"spacing":0,"bounds":"flush","hconcat":[
{"width":342,"height":204,
"layer":[
{"data":{"values":[{"l":"LTP","x":3.54,"y":9.9},{"l":"saturation","x":3.54,"y":8.73},{"l":"LTP","x":3.51,"y":1.37},{"l":"occlusion","x":3.51,"y":0.15}]},"mark":{"type":"text","fontSize":23,"align":"center","baseline":"middle"},
"encoding":{"x":{"field":"x","type":"quantitative","scale":{"domain":[0,10],"nice":false,"zero":false},"axis":null},"y":{"field":"y","type":"quantitative","scale":{"domain":[0,10],"nice":false,"zero":false},"axis":null},"text":{"field":"l"}}},
{"data":{"values":[{"l":"U","x":5.7,"y":6.47},{"l":"T","x":5.76,"y":3.43},{"l":"HFS","x":0.82,"y":-1.08}]},"mark":{"type":"text","fontSize":25,"align":"center","baseline":"middle"},
"encoding":{"x":{"field":"x","type":"quantitative","scale":{"domain":[0,10],"nice":false,"zero":false},"axis":null},"y":{"field":"y","type":"quantitative","scale":{"domain":[0,10],"nice":false,"zero":false},"axis":null},"text":{"field":"l"}}},
{"data":{"values":[{"l":"T","x":1.32,"y":6.27},{"l":"U","x":1.32,"y":4.8}]},"mark":{"type":"text","fontSize":25,"align":"center","baseline":"middle","color":"#eebd6a"},
"encoding":{"x":{"field":"x","type":"quantitative","scale":{"domain":[0,10],"nice":false,"zero":false},"axis":null},"y":{"field":"y","type":"quantitative","scale":{"domain":[0,10],"nice":false,"zero":false},"axis":null},"text":{"field":"l"}}},
{"data":{"values":[{"k":"b","x":2.4,"x2":4.44,"y":6.37},{"k":"o","x":2.4,"x2":4.44,"y":5.69},{"k":"o","x":2.4,"x2":4.44,"y":5.1},{"k":"b","x":2.4,"x2":4.44,"y":3.33}]},"mark":{"type":"rule","strokeWidth":8,"strokeCap":"butt"},
"encoding":{"x":{"field":"x","type":"quantitative","scale":{"domain":[0,10],"nice":false,"zero":false},"axis":null},"x2":{"field":"x2"},"y":{"field":"y","type":"quantitative","scale":{"domain":[0,10],"nice":false,"zero":false},"axis":null},"color":{"field":"k","type":"nominal","scale":{"domain":["b","o"],"range":["#000000","#efbb66"]},"legend":null}}},
{"data":{"values":[{"x":4.82,"x2":5.09,"y":6.37,"y2":6.37},{"x":5.09,"x2":5.09,"y":6.37,"y2":3.45},{"x":0.63,"x2":0.63,"y":0.34,"y2":1.5},{"x":0.82,"x2":0.82,"y":0.34,"y2":1.5},{"x":1.0,"x2":1.0,"y":0.34,"y2":1.5}]},"mark":{"type":"rule","strokeWidth":2,"color":"black"},
"encoding":{"x":{"field":"x","type":"quantitative","scale":{"domain":[0,10],"nice":false,"zero":false},"axis":null},"x2":{"field":"x2"},"y":{"field":"y","type":"quantitative","scale":{"domain":[0,10],"nice":false,"zero":false},"axis":null},"y2":{"field":"y2"}}},
{"data":{"values":[{"s":"triangle-down","x":5.09,"y":3.33},{"s":"triangle-up","x":0.63,"y":1.58},{"s":"triangle-up","x":0.82,"y":1.58},{"s":"triangle-up","x":1.0,"y":1.58}]},"mark":{"type":"point","filled":true,"size":45,"color":"black","opacity":1},
"encoding":{"x":{"field":"x","type":"quantitative","scale":{"domain":[0,10],"nice":false,"zero":false},"axis":null},"y":{"field":"y","type":"quantitative","scale":{"domain":[0,10],"nice":false,"zero":false},"axis":null},"shape":{"field":"s","type":"nominal","scale":{"domain":["triangle-down","triangle-up"],"range":["triangle-down","triangle-up"]},"legend":null}}},
{"data":{"values":[{"x":2.16,"x2":1.87,"y":5.05,"y2":5.05},{"x":1.87,"x2":1.87,"y":5.05,"y2":5.55}]},"mark":{"type":"rule","strokeWidth":2,"color":"#eebd6a"},
"encoding":{"x":{"field":"x","type":"quantitative","scale":{"domain":[0,10],"nice":false,"zero":false},"axis":null},"x2":{"field":"x2"},"y":{"field":"y","type":"quantitative","scale":{"domain":[0,10],"nice":false,"zero":false},"axis":null},"y2":{"field":"y2"}}},
{"data":{"values":[{"x":1.87,"y":5.68}]},"mark":{"type":"point","shape":"triangle-up","filled":true,"size":35,"color":"#eebd6a","opacity":1},
"encoding":{"x":{"field":"x","type":"quantitative","scale":{"domain":[0,10],"nice":false,"zero":false},"axis":null},"y":{"field":"y","type":"quantitative","scale":{"domain":[0,10],"nice":false,"zero":false},"axis":null}}},
{"data":{"values":[{"x":0.35,"x2":4.68,"y":2.06}]},"mark":{"type":"rule","strokeDash":[1.5,1.5],"color":"#999999","strokeWidth":1},
"encoding":{"x":{"field":"x","type":"quantitative","scale":{"domain":[0,10],"nice":false,"zero":false},"axis":null},"x2":{"field":"x2"},"y":{"field":"y","type":"quantitative","scale":{"domain":[0,10],"nice":false,"zero":false},"axis":null}}}
]},
{"width":205,"height":204,
"layer":[
{"data":{"name":"E"},"mark":{"type":"point","shape":"square","filled":true,"size":45,"opacity":1},
"encoding":{"x":{"field":"x","type":"quantitative","scale":{"domain":[-100,200],"nice":false,"zero":false},"axis":{"values":[-100,0,100,200],"title":"LTP saturation index","titlePadding":10,"labelExpr":"toString(datum.value)"}},"y":{"field":"y","type":"quantitative","scale":{"domain":[-60,40],"nice":false,"zero":false},"axis":{"values":[-60,-40,-20,0,20,40],"title":"Skill retention index","labelPadding":3,"titlePadding":6,"labelExpr":"toString(datum.value)"}},"color":{"field":"g","type":"nominal","scale":{"domain":["WT","KI"],"range":["#111111","#f2c69b"]},"legend":null}}},
{"data":{"values":[{"x":0,"x2":0,"y":-60,"y2":40},{"x":-100,"x2":203,"y":0,"y2":0}]},"mark":{"type":"rule","strokeDash":[1.5,1.5],"color":"#999999","strokeWidth":1},
"encoding":{"x":{"field":"x","type":"quantitative","scale":{"domain":[-100,200],"nice":false,"zero":false},"axis":{"values":[-100,0,100,200],"title":"LTP saturation index","titlePadding":10,"labelExpr":"toString(datum.value)"}},"x2":{"field":"x2"},"y":{"field":"y","type":"quantitative","scale":{"domain":[-60,40],"nice":false,"zero":false},"axis":{"values":[-60,-40,-20,0,20,40],"title":"Skill retention index","labelPadding":3,"titlePadding":6,"labelExpr":"toString(datum.value)"}},"y2":{"field":"y2"}}},
{"data":{"name":"E"},"mark":{"type":"rule","strokeWidth":2},
"encoding":{"x":{"field":"xlo","type":"quantitative","scale":{"domain":[-100,200],"nice":false,"zero":false},"axis":{"values":[-100,0,100,200],"title":"LTP saturation index","titlePadding":10,"labelExpr":"toString(datum.value)"}},"x2":{"field":"xhi"},"y":{"field":"y","type":"quantitative","scale":{"domain":[-60,40],"nice":false,"zero":false},"axis":{"values":[-60,-40,-20,0,20,40],"title":"Skill retention index","labelPadding":3,"titlePadding":6,"labelExpr":"toString(datum.value)"}},"color":{"field":"g","type":"nominal","scale":{"domain":["WT","KI"],"range":["#111111","#f2c69b"]},"legend":null}}},
{"data":{"name":"E"},"mark":{"type":"rule","strokeWidth":2},
"encoding":{"x":{"field":"x","type":"quantitative","scale":{"domain":[-100,200],"nice":false,"zero":false},"axis":{"values":[-100,0,100,200],"title":"LTP saturation index","titlePadding":10,"labelExpr":"toString(datum.value)"}},"y":{"field":"ylo","type":"quantitative","scale":{"domain":[-60,40],"nice":false,"zero":false},"axis":{"values":[-60,-40,-20,0,20,40],"title":"Skill retention index","labelPadding":3,"titlePadding":6,"labelExpr":"toString(datum.value)"}},"y2":{"field":"yhi"},"color":{"field":"g","type":"nominal","scale":{"domain":["WT","KI"],"range":["#111111","#f2c69b"]},"legend":null}}},
{"data":{"name":"E"},"mark":{"type":"tick","orient":"vertical","size":12,"thickness":2,"opacity":1},
"encoding":{"x":{"field":"xlo","type":"quantitative","scale":{"domain":[-100,200],"nice":false,"zero":false},"axis":{"values":[-100,0,100,200],"title":"LTP saturation index","titlePadding":10,"labelExpr":"toString(datum.value)"}},"y":{"field":"y","type":"quantitative","scale":{"domain":[-60,40],"nice":false,"zero":false},"axis":{"values":[-60,-40,-20,0,20,40],"title":"Skill retention index","labelPadding":3,"titlePadding":6,"labelExpr":"toString(datum.value)"}},"color":{"field":"g","type":"nominal","scale":{"domain":["WT","KI"],"range":["#111111","#f2c69b"]},"legend":null}}},
{"data":{"name":"E"},"mark":{"type":"tick","orient":"vertical","size":12,"thickness":2,"opacity":1},
"encoding":{"x":{"field":"xhi","type":"quantitative","scale":{"domain":[-100,200],"nice":false,"zero":false},"axis":{"values":[-100,0,100,200],"title":"LTP saturation index","titlePadding":10,"labelExpr":"toString(datum.value)"}},"y":{"field":"y","type":"quantitative","scale":{"domain":[-60,40],"nice":false,"zero":false},"axis":{"values":[-60,-40,-20,0,20,40],"title":"Skill retention index","labelPadding":3,"titlePadding":6,"labelExpr":"toString(datum.value)"}},"color":{"field":"g","type":"nominal","scale":{"domain":["WT","KI"],"range":["#111111","#f2c69b"]},"legend":null}}},
{"data":{"name":"E"},"mark":{"type":"tick","orient":"horizontal","size":12,"thickness":2,"opacity":1},
"encoding":{"x":{"field":"x","type":"quantitative","scale":{"domain":[-100,200],"nice":false,"zero":false},"axis":{"values":[-100,0,100,200],"title":"LTP saturation index","titlePadding":10,"labelExpr":"toString(datum.value)"}},"y":{"field":"ylo","type":"quantitative","scale":{"domain":[-60,40],"nice":false,"zero":false},"axis":{"values":[-60,-40,-20,0,20,40],"title":"Skill retention index","labelPadding":3,"titlePadding":6,"labelExpr":"toString(datum.value)"}},"color":{"field":"g","type":"nominal","scale":{"domain":["WT","KI"],"range":["#111111","#f2c69b"]},"legend":null}}},
{"data":{"name":"E"},"mark":{"type":"tick","orient":"horizontal","size":12,"thickness":2,"opacity":1},
"encoding":{"x":{"field":"x","type":"quantitative","scale":{"domain":[-100,200],"nice":false,"zero":false},"axis":{"values":[-100,0,100,200],"title":"LTP saturation index","titlePadding":10,"labelExpr":"toString(datum.value)"}},"y":{"field":"yhi","type":"quantitative","scale":{"domain":[-60,40],"nice":false,"zero":false},"axis":{"values":[-60,-40,-20,0,20,40],"title":"Skill retention index","labelPadding":3,"titlePadding":6,"labelExpr":"toString(datum.value)"}},"color":{"field":"g","type":"nominal","scale":{"domain":["WT","KI"],"range":["#111111","#f2c69b"]},"legend":null}}},
{"data":{"name":"E"},"mark":{"type":"point","shape":"square","filled":true,"size":45,"opacity":1},
"encoding":{"x":{"field":"x","type":"quantitative","scale":{"domain":[-100,200],"nice":false,"zero":false},"axis":{"values":[-100,0,100,200],"title":"LTP saturation index","titlePadding":10,"labelExpr":"toString(datum.value)"}},"y":{"field":"y","type":"quantitative","scale":{"domain":[-60,40],"nice":false,"zero":false},"axis":{"values":[-60,-40,-20,0,20,40],"title":"Skill retention index","labelPadding":3,"titlePadding":6,"labelExpr":"toString(datum.value)"}},"color":{"field":"g","type":"nominal","scale":{"domain":["WT","KI"],"range":["#111111","#f2c69b"]},"legend":null}}},
{"data":{"values":[{"l":"WT","x":-37.1,"y":33.1},{"l":"KI","x":140,"y":-8.5}]},"mark":{"type":"text","fontSize":23,"align":"center","baseline":"middle"},
"encoding":{"x":{"field":"x","type":"quantitative","scale":{"domain":[-100,200],"nice":false,"zero":false},"axis":{"values":[-100,0,100,200],"title":"LTP saturation index","titlePadding":10,"labelExpr":"toString(datum.value)"}},"y":{"field":"y","type":"quantitative","scale":{"domain":[-60,40],"nice":false,"zero":false},"axis":{"values":[-60,-40,-20,0,20,40],"title":"Skill retention index","labelPadding":3,"titlePadding":6,"labelExpr":"toString(datum.value)"}},"text":{"field":"l"}}},
{"data":{"values":[{"l":"Weaker occlusion","x":131.2,"y":64},{"l":"Poorer","x":309.8,"y":-38},{"l":"retention","x":308.3,"y":-52.6}]},"mark":{"type":"text","fontSize":24,"fontStyle":"italic","align":"center","baseline":"middle"},
"encoding":{"x":{"field":"x","type":"quantitative","scale":{"domain":[-100,200],"nice":false,"zero":false},"axis":{"values":[-100,0,100,200],"title":"LTP saturation index","titlePadding":10,"labelExpr":"toString(datum.value)"}},"y":{"field":"y","type":"quantitative","scale":{"domain":[-60,40],"nice":false,"zero":false},"axis":{"values":[-60,-40,-20,0,20,40],"title":"Skill retention index","labelPadding":3,"titlePadding":6,"labelExpr":"toString(datum.value)"}},"text":{"field":"l"}}},
{"data":{"values":[{"x":-12.2,"x2":114,"y":51.8,"y2":51.8},{"x":308.3,"x2":308.3,"y":17.5,"y2":-24}]},"mark":{"type":"rule","strokeWidth":1.5,"color":"#555555"},
"encoding":{"x":{"field":"x","type":"quantitative","scale":{"domain":[-100,200],"nice":false,"zero":false},"axis":{"values":[-100,0,100,200],"title":"LTP saturation index","titlePadding":10,"labelExpr":"toString(datum.value)"}},"x2":{"field":"x2"},"y":{"field":"y","type":"quantitative","scale":{"domain":[-60,40],"nice":false,"zero":false},"axis":{"values":[-60,-40,-20,0,20,40],"title":"Skill retention index","labelPadding":3,"titlePadding":6,"labelExpr":"toString(datum.value)"}},"y2":{"field":"y2"}}},
{"data":{"values":[{"s":"triangle-right","x":117.5,"y":51.8},{"s":"triangle-down","x":308.3,"y":-27}]},"mark":{"type":"point","filled":true,"size":50,"color":"#222222","opacity":1},
"encoding":{"x":{"field":"x","type":"quantitative","scale":{"domain":[-100,200],"nice":false,"zero":false},"axis":{"values":[-100,0,100,200],"title":"LTP saturation index","titlePadding":10,"labelExpr":"toString(datum.value)"}},"y":{"field":"y","type":"quantitative","scale":{"domain":[-60,40],"nice":false,"zero":false},"axis":{"values":[-60,-40,-20,0,20,40],"title":"Skill retention index","labelPadding":3,"titlePadding":6,"labelExpr":"toString(datum.value)"}},"shape":{"field":"s","type":"nominal","scale":{"domain":["triangle-right","triangle-down"],"range":["triangle-right","triangle-down"]},"legend":null}}}
]}
]}
]
}
